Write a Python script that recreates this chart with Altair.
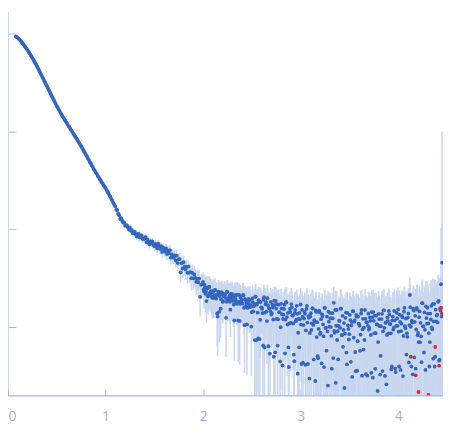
import altair as alt
import pandas as pd

# scattering vector s (1/nm)
s = [0.08, 0.09,
     0.10, 0.11, 0.12, 0.13, 0.14, 0.15, 0.16, 0.17, 0.18, 0.19,
     0.20, 0.21, 0.22, 0.23, 0.24, 0.25, 0.26, 0.27, 0.28, 0.29,
     0.30, 0.31, 0.32, 0.33, 0.34, 0.35, 0.36, 0.37, 0.38, 0.39,
     0.40, 0.41, 0.42, 0.43, 0.44, 0.45, 0.46, 0.47, 0.48, 0.49,
     0.50, 0.51, 0.52, 0.53, 0.54, 0.55, 0.56, 0.57, 0.58, 0.59,
     0.60, 0.61, 0.62, 0.63, 0.64, 0.65, 0.66, 0.67, 0.68, 0.69,
     0.70, 0.71, 0.72, 0.73, 0.74, 0.75, 0.76, 0.77, 0.78, 0.79,
     0.80, 0.81, 0.82, 0.83, 0.84, 0.85, 0.86, 0.87, 0.88, 0.89,
     0.90, 0.91, 0.92, 0.93, 0.94, 0.95, 0.96, 0.97, 0.98, 0.99,
     1.00, 1.01, 1.02, 1.03, 1.04, 1.05, 1.06, 1.07, 1.08, 1.09,
     1.10, 1.11, 1.12, 1.13, 1.14, 1.15, 1.16, 1.17, 1.18, 1.19,
     1.20, 1.21, 1.22, 1.23, 1.24, 1.25, 1.26, 1.27, 1.28, 1.29,
     1.30, 1.31, 1.32, 1.33, 1.34, 1.35, 1.36, 1.37, 1.38, 1.39,
     1.40, 1.41, 1.42, 1.43, 1.44, 1.45, 1.46, 1.47, 1.48, 1.49,
     1.50, 1.51, 1.52, 1.53, 1.54, 1.55, 1.56, 1.57, 1.58, 1.59,
     1.60, 1.61, 1.62, 1.63, 1.64, 1.65, 1.66, 1.67, 1.68, 1.69,
     1.70, 1.71, 1.72, 1.73, 1.74, 1.75, 1.76, 1.77, 1.78, 1.79,
     1.80, 1.81, 1.82, 1.83, 1.84, 1.85, 1.86, 1.87, 1.88, 1.89,
     1.90, 1.91, 1.92, 1.93, 1.94, 1.95, 1.96, 1.97, 1.98, 1.99,
     2.00, 2.01, 2.02, 2.03, 2.04, 2.05, 2.06, 2.07, 2.08, 2.09,
     2.10, 2.11, 2.12, 2.13, 2.14, 2.15, 2.16, 2.17, 2.18, 2.19,
     2.20, 2.21, 2.22, 2.23, 2.24, 2.25, 2.26, 2.27, 2.28, 2.29,
     2.30, 2.31, 2.32, 2.33, 2.34, 2.35, 2.36, 2.37, 2.38, 2.39,
     2.40, 2.41, 2.42, 2.43, 2.44, 2.45, 2.46, 2.47, 2.48, 2.49,
     2.50, 2.51, 2.52, 2.53, 2.54, 2.55, 2.56, 2.57, 2.58, 2.59,
     2.60, 2.61, 2.62, 2.63, 2.64, 2.65, 2.66, 2.67, 2.68, 2.69,
     2.70, 2.71, 2.72, 2.73, 2.74, 2.75, 2.76, 2.77, 2.78, 2.79,
     2.80, 2.81, 2.82, 2.83, 2.84, 2.85, 2.86, 2.87, 2.88, 2.89,
     2.90, 2.91, 2.92, 2.93, 2.94, 2.95, 2.96, 2.97, 2.98, 2.99,
     3.00, 3.01, 3.02, 3.03, 3.04, 3.05, 3.06, 3.07, 3.08, 3.09,
     3.10, 3.11, 3.12, 3.13, 3.14, 3.15, 3.16, 3.17, 3.18, 3.19,
     3.20, 3.21, 3.22, 3.23, 3.24, 3.25, 3.26, 3.27, 3.28, 3.29,
     3.30, 3.31, 3.32, 3.33, 3.34, 3.35, 3.36, 3.37, 3.38, 3.39,
     3.40, 3.41, 3.42, 3.43, 3.44, 3.45, 3.46, 3.47, 3.48, 3.49,
     3.50, 3.51, 3.52, 3.53, 3.54, 3.55, 3.56, 3.57, 3.58, 3.59,
     3.60, 3.61, 3.62, 3.63, 3.64, 3.65, 3.66, 3.67, 3.68, 3.69,
     3.70, 3.71, 3.72, 3.73, 3.74, 3.75, 3.76, 3.77, 3.78, 3.79,
     3.80, 3.81, 3.82, 3.83, 3.84, 3.85, 3.86, 3.87, 3.88, 3.89,
     3.90, 3.91, 3.92, 3.93, 3.94, 3.95, 3.96, 3.97, 3.98, 3.99,
     4.00, 4.01, 4.02, 4.03, 4.04, 4.05, 4.06, 4.07, 4.08, 4.09,
     4.10, 4.11, 4.12, 4.13, 4.14, 4.15, 4.16, 4.17, 4.18, 4.19,
     4.20, 4.21, 4.22, 4.23, 4.24, 4.25, 4.26, 4.27, 4.28, 4.29,
     4.30, 4.31, 4.32, 4.33, 4.34, 4.35, 4.36, 4.37, 4.38, 4.39,
     4.40, 4.41, 4.42, 4.43, 4.44, 4.45]

# log10 of intensity (arbitrary units)
logI = [3.970, 3.962,
        3.955, 3.946, 3.936, 3.925, 3.913, 3.900, 3.887, 3.873, 3.859, 3.845,
        3.830, 3.815, 3.799, 3.783, 3.767, 3.750, 3.732, 3.714, 3.696, 3.678,
        3.660, 3.640, 3.620, 3.600, 3.580, 3.560, 3.540, 3.520, 3.500, 3.480,
        3.460, 3.440, 3.420, 3.400, 3.380, 3.360, 3.340, 3.320, 3.300, 3.280,
        3.260, 3.243, 3.223, 3.207, 3.187, 3.171, 3.153, 3.139, 3.121, 3.107,
        3.090, 3.075, 3.057, 3.043, 3.025, 3.011, 2.993, 2.979, 2.961, 2.947,
        2.930, 2.915, 2.897, 2.883, 2.865, 2.851, 2.831, 2.815, 2.795, 2.779,
        2.760, 2.744, 2.722, 2.708, 2.686, 2.672, 2.650, 2.636, 2.614, 2.600,
        2.580, 2.567, 2.546, 2.534, 2.514, 2.502, 2.481, 2.470, 2.449, 2.438,
        2.420, 2.404, 2.383, 2.369, 2.347, 2.333, 2.309, 2.293, 2.269, 2.253,
        2.234, 2.200, 2.200, 2.162, 2.144, 2.106, 2.114, 2.088, 2.069, 2.070,
        2.036, 2.044, 2.040, 2.018, 1.998, 2.018, 1.986, 1.992, 1.960, 1.970,
        1.975, 1.949, 1.926, 1.950, 1.954, 1.918, 1.924, 1.938, 1.902, 1.904,
        1.906, 1.921, 1.870, 1.897, 1.867, 1.846, 1.877, 1.863, 1.876, 1.844,
        1.828, 1.851, 1.835, 1.806, 1.853, 1.827, 1.800, 1.829, 1.770, 1.814,
        1.794, 1.772, 1.806, 1.748, 1.782, 1.756, 1.788, 1.712, 1.744, 1.728,
        1.711, 1.735, 1.682, 1.732, 1.656, 1.694, 1.697, 1.562, 1.655, 1.600,
        1.665, 1.619, 1.593, 1.617, 1.556, 1.620, 1.559, 1.563, 1.502, 1.556,
        1.500, 1.540, 1.505, 1.465, 1.495, 1.460, 1.498, 1.311, 1.434, 1.442,
        1.464, 1.366, 1.406, 1.368, 1.408, 1.316, 1.406, 1.352, 1.370, 1.316,
        1.36, 1.30, 1.38, 1.32, 1.33, 1.11, 1.36, 1.32, 1.19, 1.36,
        1.26, 1.32, 1.34, 1.30, 1.26, 1.36, 1.28, 1.32, 1.18, 1.30,
        1.34, 1.27, 1.07, 1.30, 1.33, 1.24, 1.07, 1.33, 1.24, 1.26,
        1.28, 1.33, 1.20, 1.29, 1.22, 1.03, 1.27, 1.24, 1.28, 1.21,
        1.155, 1.256, 1.214, 0.870, 1.312, 1.231, 1.150, 1.277, 0.880, 1.258,
        1.204, 1.145, 1.282, 0.797, 1.234, 1.161, 1.298, 0.807, 1.194, 1.163,
        1.130, 1.232, 1.080, 1.272, 0.745, 1.192, 1.235, 1.082, 1.155, 0.652,
        1.240, 1.132, 1.085, 1.187, 0.735, 1.257, 1.105, 1.147, 0.595, 1.187,
        1.046, 1.203, 1.120, 0.721, 1.146, 1.063, 1.220, 0.527, 1.086, 1.147,
        1.233, 0.626, 1.110, 1.023, 1.157, 0.617, 1.187, 1.049, 1.115, 0.477,
        1.111, 0.974, 1.194, 1.023, 1.073, 0.452, 1.156, 1.053, 0.684, 1.170,
        0.931, 1.083, 1.133, 1.030, 0.594, 1.198, 0.995, 1.110, 0.406, 1.058,
        1.148, 1.003, 0.578, 1.091, 1.250, 0.945, 0.434, 1.177, 0.960, 1.014,
        1.066, 1.191, 0.921, 1.117, 0.973, 0.381, 1.097, 0.742, 1.147, 0.984,
        0.930, 1.074, 1.020, 0.494, 1.164, 1.056, 0.748, 1.128, 0.558, 1.110,
        1.033, 0.761, 1.141, 0.507, 1.087, 0.997, 1.177, 0.521, 1.051, 1.015,
        0.976, 1.102, 0.922, 1.156, 0.486, 1.066, 1.120, 0.940, 1.030, 0.350,
        1.138, 1.012, 0.708, 1.084, 0.554, 1.174, 0.994, 1.048, 0.418, 1.102,
        0.939, 1.129, 1.034, 0.570, 1.072, 0.977, 1.167, 0.582, 1.015, 1.091,
        1.183, 0.600, 1.055, 0.961, 1.116, 0.503, 1.160, 1.011, 1.090, 0.940,
        1.100, 0.642, 1.330, 1.006, 1.068, 0.520, 1.170, 1.055, 0.578, 1.198,
        0.920, 0.850, 1.162, 1.046, 0.644, 1.246, 1.009, 1.152, 0.565, 1.095,
        1.200, 1.040, 0.600, 1.140, 1.220, 0.980, 0.680, 1.240, 0.700, 1.060,
        1.130, 1.260, 0.660, 1.190, 1.440, 1.660]

# absolute error of intensity (same units)
err = [60, 58,
       55, 54, 52, 51, 49, 47, 46, 44, 43, 42,
       40, 39, 37, 36, 35, 33, 32, 31, 30, 28,
       27, 26, 25, 24, 23, 22, 21, 20, 19, 18,
       17, 17, 16, 15, 15, 14, 14, 13, 13, 12,
       18, 17, 17, 16, 15, 15, 14, 14, 13, 13,
       12, 12, 11, 11, 11, 10, 10, 10, 9, 9,
       8.5, 8.2, 7.9, 7.6, 7.3, 7.1, 6.8, 6.5, 6.2, 6.0,
       5.8, 5.6, 5.4, 5.2, 5.0, 4.9, 4.7, 4.6, 4.4, 4.3,
       7.6, 7.3, 7.0, 6.9, 6.6, 6.4, 6.2, 6.0, 5.8, 5.6,
       6.6, 6.4, 6.2, 6.3, 6.0, 6.1, 5.9, 6.0, 5.8, 5.9,
       6.0, 5.8, 6.2, 5.9, 6.1, 5.7, 6.0, 6.2, 5.8, 6.1,
       6.2, 6.0, 6.3, 5.9, 6.1, 6.4, 6.0, 6.2, 6.5, 6.1,
       6.4, 6.2, 6.6, 6.3, 6.5, 6.1, 6.7, 6.4, 6.2, 6.6,
       6.5, 6.8, 6.4, 6.9, 6.6, 6.3, 7.0, 6.7, 6.5, 6.8,
       7.1, 6.9, 7.4, 7.0, 7.3, 7.5, 6.9, 7.2, 7.6, 7.0,
       7.3, 7.6, 7.1, 7.5, 7.8, 7.2, 7.4, 7.7, 7.3, 7.6,
       7.4, 7.8, 7.2, 7.6, 7.9, 7.3, 7.5, 8.0, 7.4, 7.7,
       7.6, 7.3, 7.9, 7.5, 7.8, 7.2, 7.7, 7.4, 8.0, 7.5,
       7.5, 7.8, 7.3, 7.7, 7.4, 7.9, 7.2, 7.6, 7.8, 7.3,
       7.4, 7.7, 7.2, 7.5, 7.8, 7.1, 7.6, 7.3, 7.9, 7.4,
       7.2, 7.5, 7.0, 7.6, 7.3, 7.8, 7.1, 7.4, 7.7, 7.2,
       7.3, 7.0, 7.6, 7.2, 7.5, 6.9, 7.4, 7.7, 7.1, 7.3,
       7.0, 7.4, 7.2, 6.9, 7.5, 7.1, 7.3, 6.8, 7.6, 7.2,
       7.1, 6.9, 7.4, 7.2, 6.8, 7.5, 7.0, 7.3, 6.9, 7.2,
       7.0, 7.3, 6.8, 7.4, 7.1, 6.9, 7.5, 7.2, 7.0, 7.3,
       7.2, 7.0, 7.4, 7.1, 7.6, 6.9, 7.3, 7.5, 7.0, 7.4,
       7.3, 7.6, 7.1, 7.4, 7.2, 7.7, 7.0, 7.5, 7.3, 7.6,
       7.5, 7.2, 7.7, 7.4, 7.8, 7.3, 7.6, 7.9, 7.4, 7.7,
       7.6, 7.9, 7.4, 7.8, 7.5, 8.0, 7.7, 7.6, 8.1, 7.8,
       8.0, 7.8, 8.3, 7.9, 8.2, 8.4, 7.9, 8.1, 8.5, 8.0,
       8.2, 8.5, 8.0, 8.4, 8.1, 8.6, 8.3, 8.0, 8.7, 8.2,
       8.4, 8.1, 8.6, 8.3, 8.8, 8.2, 8.5, 8.9, 8.3, 8.6,
       8.5, 8.8, 8.3, 8.7, 8.4, 9.0, 8.6, 8.4, 8.9, 8.7,
       8.8, 8.6, 9.1, 8.7, 9.0, 8.5, 9.2, 8.8, 8.6, 9.1,
       9.0, 9.3, 8.8, 9.2, 8.9, 9.4, 9.1, 8.8, 9.5, 9.0,
       9.2, 8.9, 9.5, 9.1, 9.4, 8.9, 9.6, 9.2, 9.0, 9.5,
       9.3, 9.6, 9.1, 9.5, 9.2, 9.8, 9.4, 9.1, 9.7, 9.3,
       9.6, 9.3, 9.9, 9.5, 9.8, 9.4, 10.0, 9.6, 9.3, 9.9,
       9.8, 10.1, 9.6, 10.0, 9.7, 10.3, 9.9, 9.6, 10.2, 9.8,
       10.2, 10.6, 10.1, 10.5, 10.8, 10.3, 10.7, 10.4, 11.0, 10.6,
       11.0, 11.4, 10.9, 11.6, 11.2, 11.8, 11.3, 11.0, 11.9, 11.5,
       12.0, 12.5, 11.8, 12.8, 12.2, 13.0, 12.4, 12.1, 13.2, 12.6,
       13.5, 14.0, 13.2, 14.4, 13.8, 14.8, 14.1, 13.6, 15.0, 14.4,
       15.5, 16.0, 15.2, 16.5, 75, 954]

# interleaved measurement points in the noisy tail (s >= 2)
s_b = [2.005, 2.015, 2.025, 2.035, 2.045, 2.055, 2.065, 2.075, 2.085, 2.095,
       2.105, 2.115, 2.125, 2.135, 2.145, 2.155, 2.165, 2.175, 2.185, 2.195,
       2.205, 2.215, 2.225, 2.235, 2.245, 2.255, 2.265, 2.275, 2.285, 2.295,
       2.305, 2.315, 2.325, 2.335, 2.345, 2.355, 2.365, 2.375, 2.385, 2.395,
       2.405, 2.415, 2.425, 2.435, 2.445, 2.455, 2.465, 2.475, 2.485, 2.495,
       2.505, 2.515, 2.525, 2.535, 2.545, 2.555, 2.565, 2.575, 2.585, 2.595,
       2.605, 2.615, 2.625, 2.635, 2.645, 2.655, 2.665, 2.675, 2.685, 2.695,
       2.705, 2.715, 2.725, 2.735, 2.745, 2.755, 2.765, 2.775, 2.785, 2.795,
       2.805, 2.815, 2.825, 2.835, 2.845, 2.855, 2.865, 2.875, 2.885, 2.895,
       2.905, 2.915, 2.925, 2.935, 2.945, 2.955, 2.965, 2.975, 2.985, 2.995,
       3.005, 3.015, 3.025, 3.035, 3.045, 3.055, 3.065, 3.075, 3.085, 3.095,
       3.105, 3.115, 3.125, 3.135, 3.145, 3.155, 3.165, 3.175, 3.185, 3.195,
       3.205, 3.215, 3.225, 3.235, 3.245, 3.255, 3.265, 3.275, 3.285, 3.295,
       3.305, 3.315, 3.325, 3.335, 3.345, 3.355, 3.365, 3.375, 3.385, 3.395,
       3.405, 3.415, 3.425, 3.435, 3.445, 3.455, 3.465, 3.475, 3.485, 3.495,
       3.505, 3.515, 3.525, 3.535, 3.545, 3.555, 3.565, 3.575, 3.585, 3.595,
       3.605, 3.615, 3.625, 3.635, 3.645, 3.655, 3.665, 3.675, 3.685, 3.695,
       3.705, 3.715, 3.725, 3.735, 3.745, 3.755, 3.765, 3.775, 3.785, 3.795,
       3.805, 3.815, 3.825, 3.835, 3.845, 3.855, 3.865, 3.875, 3.885, 3.895,
       3.905, 3.915, 3.925, 3.935, 3.945, 3.955, 3.965, 3.975, 3.985, 3.995,
       4.005, 4.015, 4.025, 4.035, 4.045, 4.055, 4.065, 4.075, 4.085, 4.095,
       4.105, 4.115, 4.125, 4.135, 4.145, 4.155, 4.165, 4.175, 4.185, 4.195,
       4.205, 4.215, 4.225, 4.235, 4.245, 4.255, 4.265, 4.275, 4.285, 4.295,
       4.305, 4.315, 4.325, 4.335, 4.345, 4.355, 4.365, 4.375, 4.385, 4.395,
       4.405, 4.415, 4.425, 4.435, 4.445]

logI_b = [1.388, 1.434, 1.342, 1.268, 1.398, 1.331, 1.415, 1.343, 1.361, 1.301,
          1.371, 1.328, 1.382, 1.294, 1.142, 1.365, 1.158, 1.335, 1.287, 1.350,
          1.267, 1.321, 1.333, 1.097, 1.364, 1.278, 1.304, 1.260, 1.342, 1.277,
          1.311, 1.233, 1.327, 1.279, 1.246, 1.333, 1.262, 1.065, 1.303, 1.276,
          1.242, 1.326, 1.022, 1.278, 1.250, 1.198, 1.290, 1.206, 1.226, 1.008,
          1.296, 1.163, 1.238, 1.313, 0.867, 1.242, 0.887, 1.262, 1.077, 1.204,
          1.188, 0.815, 1.308, 1.151, 1.260, 1.064, 1.226, 1.196, 0.731, 1.260,
          1.144, 1.201, 0.700, 1.227, 1.269, 1.086, 0.814, 1.231, 1.153, 1.001,
          1.194, 0.611, 1.129, 1.231, 1.079, 1.256, 1.029, 0.795, 1.039, 1.156,
          1.237, 1.122, 1.039, 0.654, 1.177, 1.078, 1.138, 0.945, 0.796, 1.082,
          1.028, 1.179, 0.639, 1.090, 1.139, 0.968, 1.220, 0.626, 1.097, 0.942,
          1.144, 1.041, 1.193, 0.671, 1.055, 1.173, 0.901, 0.705, 0.984, 1.153,
          0.947, 0.633, 1.115, 0.910, 1.198, 0.993, 0.762, 0.958, 1.161, 1.007,
          1.093, 0.913, 1.145, 0.686, 0.963, 1.178, 1.016, 0.871, 0.672, 1.067,
          0.994, 1.191, 0.920, 0.801, 1.043, 0.935, 1.151, 0.621, 1.021, 0.876,
          1.128, 0.648, 1.056, 1.164, 0.894, 1.074, 0.552, 1.110, 0.858, 1.038,
          1.015, 0.925, 1.177, 0.979, 0.773, 0.871, 1.087, 1.051, 0.507, 1.141,
          0.994, 1.066, 0.536, 1.102, 1.156, 0.940, 0.576, 1.120, 1.030, 0.850,
          1.084, 0.518, 1.012, 1.138, 0.958, 1.174, 0.504, 1.048, 0.922, 1.066,
          1.167, 1.034, 0.939, 0.601, 1.110, 0.996, 1.072, 0.544, 1.148, 1.015,
          0.956, 1.129, 0.565, 1.037, 1.101, 0.912, 1.199, 0.990, 0.722, 0.903,
          1.141, 1.023, 1.205, 0.600, 1.049, 1.191, 0.693, 1.117, 0.978, 1.181,
          0.942, 1.104, 0.847, 0.907, 1.248, 1.010, 0.743, 0.975, 1.214, 1.037,
          1.140, 0.940, 0.850, 1.080, 1.000, 1.240, 1.060, 0.600, 1.180, 1.120,
          1.050, 1.270, 0.670, 1.170, 1.110]

err_b = [7.5, 7.3, 7.7, 7.4, 7.6, 7.2, 7.5, 7.8, 7.3, 7.6,
         7.4, 7.1, 7.6, 7.3, 7.5, 7.0, 7.4, 7.2, 7.6, 7.3,
         7.1, 7.4, 7.2, 7.5, 7.0, 7.3, 7.6, 7.1, 7.4, 7.2,
         7.3, 7.0, 7.5, 7.2, 6.9, 7.4, 7.1, 7.5, 7.0, 7.3,
         7.0, 7.3, 7.1, 6.9, 7.4, 7.2, 6.9, 7.3, 7.1, 7.0,
         7.2, 6.9, 7.3, 7.0, 7.4, 7.1, 6.8, 7.3, 7.1, 7.2,
         7.1, 7.3, 7.0, 7.5, 7.2, 7.4, 7.0, 7.3, 7.6, 7.1,
         7.5, 7.2, 7.6, 7.3, 7.5, 7.1, 7.6, 7.3, 7.4, 7.7,
         7.4, 7.7, 7.5, 7.8, 7.4, 7.7, 7.5, 7.8, 7.6, 7.5,
         7.8, 7.5, 7.9, 7.6, 8.0, 7.7, 7.9, 8.0, 7.7, 8.1,
         7.9, 8.2, 8.0, 8.3, 7.9, 8.2, 8.4, 8.0, 8.3, 8.1,
         8.4, 8.1, 8.5, 8.2, 8.6, 8.3, 8.1, 8.6, 8.4, 8.5,
         8.3, 8.6, 8.4, 8.7, 8.3, 8.6, 8.8, 8.4, 8.7, 8.5,
         8.7, 8.5, 8.9, 8.6, 8.8, 8.5, 8.9, 8.7, 8.6, 9.0,
         8.7, 9.0, 8.8, 9.1, 8.7, 9.0, 8.9, 9.2, 8.8, 9.0,
         9.2, 8.9, 9.3, 9.0, 9.4, 9.1, 9.3, 9.0, 9.4, 9.2,
         9.1, 9.4, 9.2, 9.5, 9.1, 9.4, 9.3, 9.6, 9.2, 9.4,
         9.5, 9.2, 9.6, 9.3, 9.7, 9.4, 9.6, 9.3, 9.8, 9.5,
         9.4, 9.7, 9.5, 9.8, 9.6, 9.9, 9.5, 9.8, 9.7, 9.6,
         10.0, 9.7, 10.1, 9.8, 10.2, 9.9, 10.1, 9.8, 10.0, 10.2,
         10.4, 10.3, 10.7, 10.4, 10.6, 10.9, 10.5, 10.8, 10.7, 11.0,
         11.2, 11.1, 11.5, 11.3, 11.7, 11.4, 11.8, 11.6, 11.9, 11.8,
         12.2, 12.3, 12.6, 12.4, 12.9, 12.7, 13.1, 12.8, 13.4, 13.0,
         13.8, 13.7, 14.2, 13.9, 14.6, 14.3, 14.7, 14.5, 15.2, 14.9,
         15.3, 15.8, 15.6, 16.2, 16.4]

# points flagged in red
red_s = [4.13, 4.18, 4.21, 4.31, 4.38, 4.42, 4.44, 4.45]
red_logI = [0.70, 0.51, 0.34, 0.31, 0.80, 0.61, 1.20, 1.14]
red_err = [12.0, 12.5, 12.8, 14.0, 14.8, 15.2, 16.0, 16.5]

x_ticks = [0, 1, 2, 3, 4]
y_ticks = [10, 100, 1000, 10000]

AXIS = "#a4b9e3"
LABEL = "#9cb2de"
BLUE = "#3466bd"
ERRC = "#c9d7ef"
RED = "#e8242a"


def frame(sv, lv, ev):
    iv = [10 ** v for v in lv]
    return pd.DataFrame({
        "s": sv,
        "I": iv,
        "low": [max(a - e, 1.0) for a, e in zip(iv, ev)],
        "high": [a + e for a, e in zip(iv, ev)],
    })


df = pd.concat([frame(s, logI, err), frame(s_b, logI_b, err_b)], ignore_index=True)
rdf = frame(red_s, red_logI, red_err)

W, H = 443, 391

xenc = alt.X("s:Q", scale=alt.Scale(domain=[0, 4.46], nice=False, zero=False),
             axis=alt.Axis(values=x_ticks, offset=-7, tickSize=7, domain=False,
                           grid=False, title=None, labelPadding=14,
                           labelFontSize=14, labelColor=LABEL, tickColor=AXIS,
                           labelFont="Open Sans", labelFlush=True, format="d"))
yscale = alt.Scale(type="log", domain=[2, 16600], nice=False)
yenc = alt.Y("I:Q", scale=yscale,
             axis=alt.Axis(values=y_ticks, offset=-8, tickSize=8, domain=False,
                           labels=False, grid=False, title=None, tickColor=AXIS))

bars = alt.Chart(df).mark_rule(color=ERRC, strokeWidth=1.6, clip=True).encode(
    x=xenc, y=alt.Y("low:Q", scale=yscale), y2="high:Q")
pts = alt.Chart(df).mark_circle(color=BLUE, size=15, opacity=1, clip=True).encode(
    x=xenc, y=yenc)
rbars = alt.Chart(rdf).mark_rule(color=ERRC, strokeWidth=1.6, clip=True).encode(
    x="s:Q", y=alt.Y("low:Q", scale=yscale), y2="high:Q")
rpts = alt.Chart(rdf).mark_circle(color=RED, size=15, opacity=1, clip=True).encode(
    x="s:Q", y=alt.Y("I:Q", scale=yscale))

one = pd.DataFrame({"k": [0]})
yline = alt.Chart(one).mark_rule(color=AXIS, strokeWidth=1.2).encode(
    x=alt.value(0), y=alt.value(0), y2=alt.value(H))
xline = alt.Chart(one).mark_rule(color=AXIS, strokeWidth=1.2).encode(
    y=alt.value(H), x=alt.value(0), x2=alt.value(W))

chart = alt.layer(bars, rbars, pts, rpts, yline, xline).properties(
    width=W, height=H,
    autosize=alt.AutoSizeParams(type="none"),
    padding={"left": 0, "top": 0, "right": 0, "bottom": 38},
).configure_view(stroke=None)

chart.save("out.html", embed_options={"renderer": "svg", "actions": False})
